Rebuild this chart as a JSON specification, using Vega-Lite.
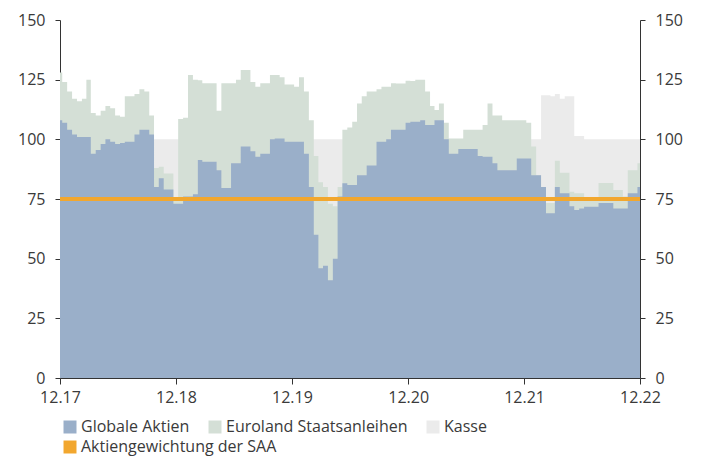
{
  "$schema": "https://vega.github.io/schema/vega-lite/v6.json",
  "width": 580,
  "height": 358,
  "autosize": "none",
  "padding": {"left": 60, "top": 20, "right": 61, "bottom": 81},
  "config": {
    "view": {"stroke": null},
    "font": "Open Sans",
    "axis": {"grid": false, "labelFont": "Open Sans", "labelFontSize": 16, "labelColor": "#3a3a3a", "domainColor": "#333333", "tickColor": "#333333", "title": null},
    "legend": {"labelFont": "Open Sans", "labelFontSize": 16, "labelColor": "#3a3a3a"}
  },
  "datasets": {
    "gewichte": [
    {"d":"2017-12-01","aktien":108,"summe":128,"kasse":100},
    {"d":"2017-12-15","aktien":107,"summe":124,"kasse":100},
    {"d":"2018-01-01","aktien":104,"summe":120,"kasse":100},
    {"d":"2018-01-15","aktien":102,"summe":117,"kasse":100},
    {"d":"2018-02-01","aktien":101,"summe":116,"kasse":100},
    {"d":"2018-02-15","aktien":101,"summe":117,"kasse":100},
    {"d":"2018-03-01","aktien":101,"summe":125,"kasse":100},
    {"d":"2018-03-15","aktien":94,"summe":111,"kasse":100},
    {"d":"2018-04-01","aktien":95.5,"summe":110,"kasse":100},
    {"d":"2018-04-15","aktien":98,"summe":112,"kasse":100},
    {"d":"2018-05-01","aktien":100,"summe":114,"kasse":100},
    {"d":"2018-05-15","aktien":99,"summe":113,"kasse":100},
    {"d":"2018-06-01","aktien":98,"summe":110,"kasse":100},
    {"d":"2018-06-15","aktien":98.5,"summe":109.5,"kasse":100},
    {"d":"2018-07-01","aktien":99,"summe":118,"kasse":100},
    {"d":"2018-07-15","aktien":99,"summe":118,"kasse":100},
    {"d":"2018-08-01","aktien":102,"summe":119,"kasse":100},
    {"d":"2018-08-15","aktien":104,"summe":121,"kasse":100},
    {"d":"2018-09-01","aktien":104,"summe":120,"kasse":100},
    {"d":"2018-09-15","aktien":102,"summe":110,"kasse":100},
    {"d":"2018-10-01","aktien":80,"summe":88,"kasse":100},
    {"d":"2018-10-15","aktien":83.7,"summe":88.5,"kasse":100},
    {"d":"2018-11-01","aktien":79,"summe":85.7,"kasse":100},
    {"d":"2018-11-15","aktien":79,"summe":85.7,"kasse":100},
    {"d":"2018-12-01","aktien":73,"summe":75,"kasse":100},
    {"d":"2018-12-15","aktien":73,"summe":108.5,"kasse":100},
    {"d":"2019-01-01","aktien":76,"summe":109,"kasse":100},
    {"d":"2019-01-15","aktien":76,"summe":127,"kasse":100},
    {"d":"2019-02-01","aktien":77,"summe":125,"kasse":100},
    {"d":"2019-02-15","aktien":91.3,"summe":124.8,"kasse":100},
    {"d":"2019-03-01","aktien":90.6,"summe":123.5,"kasse":100},
    {"d":"2019-03-15","aktien":90.6,"summe":123.5,"kasse":100},
    {"d":"2019-04-01","aktien":90.6,"summe":123.5,"kasse":100},
    {"d":"2019-04-15","aktien":87,"summe":112,"kasse":100},
    {"d":"2019-05-01","aktien":79.6,"summe":123.5,"kasse":100},
    {"d":"2019-05-15","aktien":79.6,"summe":123.5,"kasse":100},
    {"d":"2019-06-01","aktien":90,"summe":123.5,"kasse":100},
    {"d":"2019-06-15","aktien":90,"summe":125,"kasse":100},
    {"d":"2019-07-01","aktien":97,"summe":129,"kasse":100},
    {"d":"2019-07-15","aktien":97,"summe":129,"kasse":100},
    {"d":"2019-08-01","aktien":95,"summe":124,"kasse":100},
    {"d":"2019-08-15","aktien":92.7,"summe":122,"kasse":100},
    {"d":"2019-09-01","aktien":94,"summe":123.5,"kasse":100},
    {"d":"2019-09-15","aktien":94,"summe":123.5,"kasse":100},
    {"d":"2019-10-01","aktien":100,"summe":127,"kasse":100},
    {"d":"2019-10-15","aktien":100.4,"summe":127,"kasse":100},
    {"d":"2019-11-01","aktien":100.4,"summe":126,"kasse":100},
    {"d":"2019-11-15","aktien":99,"summe":123,"kasse":100},
    {"d":"2019-12-01","aktien":99,"summe":123,"kasse":100},
    {"d":"2019-12-15","aktien":99,"summe":122,"kasse":100},
    {"d":"2020-01-01","aktien":99,"summe":126,"kasse":100},
    {"d":"2020-01-15","aktien":94,"summe":120,"kasse":100},
    {"d":"2020-02-01","aktien":80,"summe":108,"kasse":100},
    {"d":"2020-02-15","aktien":60,"summe":93,"kasse":100},
    {"d":"2020-03-01","aktien":46,"summe":82,"kasse":100},
    {"d":"2020-03-15","aktien":47,"summe":80,"kasse":100},
    {"d":"2020-04-01","aktien":41,"summe":73,"kasse":100},
    {"d":"2020-04-15","aktien":50,"summe":72,"kasse":100},
    {"d":"2020-05-01","aktien":76,"summe":80,"kasse":100},
    {"d":"2020-05-15","aktien":81.6,"summe":104,"kasse":100},
    {"d":"2020-06-01","aktien":80.9,"summe":105,"kasse":100},
    {"d":"2020-06-15","aktien":80.9,"summe":107.4,"kasse":100},
    {"d":"2020-07-01","aktien":85,"summe":115,"kasse":100},
    {"d":"2020-07-15","aktien":85,"summe":118,"kasse":100},
    {"d":"2020-08-01","aktien":89,"summe":120,"kasse":100},
    {"d":"2020-08-15","aktien":89,"summe":120,"kasse":100},
    {"d":"2020-09-01","aktien":99,"summe":121,"kasse":100},
    {"d":"2020-09-15","aktien":99,"summe":122,"kasse":100},
    {"d":"2020-10-01","aktien":100,"summe":122,"kasse":100},
    {"d":"2020-10-15","aktien":104,"summe":123.5,"kasse":100},
    {"d":"2020-11-01","aktien":104,"summe":123.4,"kasse":100},
    {"d":"2020-11-15","aktien":104,"summe":123.4,"kasse":100},
    {"d":"2020-12-01","aktien":107,"summe":124.5,"kasse":100},
    {"d":"2020-12-15","aktien":107.4,"summe":124.4,"kasse":100},
    {"d":"2021-01-01","aktien":107.4,"summe":125,"kasse":100},
    {"d":"2021-01-15","aktien":108,"summe":125,"kasse":100},
    {"d":"2021-02-01","aktien":106,"summe":120,"kasse":100},
    {"d":"2021-02-15","aktien":106,"summe":114,"kasse":100},
    {"d":"2021-03-01","aktien":108,"summe":112.3,"kasse":100},
    {"d":"2021-03-15","aktien":108,"summe":115,"kasse":100},
    {"d":"2021-04-01","aktien":100,"summe":107,"kasse":100},
    {"d":"2021-04-15","aktien":94,"summe":100.4,"kasse":100},
    {"d":"2021-05-01","aktien":94,"summe":100.4,"kasse":100},
    {"d":"2021-05-15","aktien":96,"summe":100.4,"kasse":100},
    {"d":"2021-06-01","aktien":96,"summe":104,"kasse":100},
    {"d":"2021-06-15","aktien":96,"summe":104,"kasse":100},
    {"d":"2021-07-01","aktien":96,"summe":104,"kasse":100},
    {"d":"2021-07-15","aktien":93,"summe":104,"kasse":100},
    {"d":"2021-08-01","aktien":92.7,"summe":106,"kasse":100},
    {"d":"2021-08-15","aktien":92.7,"summe":115,"kasse":100},
    {"d":"2021-09-01","aktien":90,"summe":110,"kasse":100},
    {"d":"2021-09-15","aktien":87,"summe":110,"kasse":100},
    {"d":"2021-10-01","aktien":87,"summe":108,"kasse":100},
    {"d":"2021-10-15","aktien":87,"summe":108,"kasse":100},
    {"d":"2021-11-01","aktien":87,"summe":108,"kasse":100},
    {"d":"2021-11-15","aktien":92,"summe":108,"kasse":100},
    {"d":"2021-12-01","aktien":92,"summe":108,"kasse":100},
    {"d":"2021-12-15","aktien":92,"summe":107,"kasse":100},
    {"d":"2022-01-01","aktien":85,"summe":97,"kasse":100},
    {"d":"2022-01-15","aktien":85,"summe":85,"kasse":100},
    {"d":"2022-02-01","aktien":80,"summe":80,"kasse":118.5},
    {"d":"2022-02-15","aktien":69,"summe":73.3,"kasse":118.5},
    {"d":"2022-03-01","aktien":69,"summe":73.3,"kasse":118},
    {"d":"2022-03-15","aktien":80,"summe":91,"kasse":119},
    {"d":"2022-04-01","aktien":77.4,"summe":86,"kasse":117},
    {"d":"2022-04-15","aktien":77.4,"summe":86,"kasse":118},
    {"d":"2022-05-01","aktien":72,"summe":78,"kasse":118},
    {"d":"2022-05-15","aktien":70.4,"summe":77.4,"kasse":101.4},
    {"d":"2022-06-01","aktien":71,"summe":77.4,"kasse":101.4},
    {"d":"2022-06-15","aktien":71.8,"summe":74.6,"kasse":100},
    {"d":"2022-07-01","aktien":71.8,"summe":74.6,"kasse":100},
    {"d":"2022-07-15","aktien":71.8,"summe":74.6,"kasse":100},
    {"d":"2022-08-01","aktien":73.3,"summe":81.7,"kasse":100},
    {"d":"2022-08-15","aktien":73.3,"summe":81.7,"kasse":100},
    {"d":"2022-09-01","aktien":73.3,"summe":81.7,"kasse":100},
    {"d":"2022-09-15","aktien":71,"summe":78.8,"kasse":100},
    {"d":"2022-10-01","aktien":71,"summe":78.8,"kasse":100},
    {"d":"2022-10-15","aktien":71,"summe":76,"kasse":100},
    {"d":"2022-11-01","aktien":77.4,"summe":87,"kasse":100},
    {"d":"2022-11-15","aktien":77.4,"summe":87,"kasse":100},
    {"d":"2022-12-01","aktien":80,"summe":90,"kasse":100}
    ],
    "saa": [{"name": "Aktiengewichtung der SAA", "gewicht": 75}]
  },
  "layer": [
    {
      "data": {"name": "gewichte"},
      "mark": {"type": "area", "interpolate": "step", "opacity": 1},
      "encoding": {
        "x": {
          "field": "d", "type": "temporal",
          "scale": {"type": "utc", "domain": [{"year": 2017, "month": 12, "date": 1, "utc": true}, {"year": 2022, "month": 12, "date": 1, "utc": true}], "nice": false},
          "axis": {
            "values": [
              {"year": 2017, "month": 12, "date": 1, "utc": true},
              {"year": 2018, "month": 12, "date": 1, "utc": true},
              {"year": 2019, "month": 12, "date": 1, "utc": true},
              {"year": 2020, "month": 12, "date": 1, "utc": true},
              {"year": 2021, "month": 12, "date": 1, "utc": true},
              {"year": 2022, "month": 12, "date": 1, "utc": true}
            ],
            "labelExpr": "utcFormat(datum.value, '%m.%y')", "tickSize": 6, "labelPadding": 5, "labelOverlap": false, "labelFlush": false
          }
        },
        "y": {"field": "kasse", "type": "quantitative", "scale": {"domain": [0, 150], "nice": false}, "axis": {"orient": "left", "values": [0, 25, 50, 75, 100, 125, 150], "tickSize": 5, "labelPadding": 10}},
        "color": {"datum": "Kasse", "type": "nominal",
          "scale": {"domain": ["Globale Aktien", "Euroland Staatsanleihen", "Kasse"], "range": ["#9AAFC9", "#D4DFD6", "#EBEBEB"]},
          "legend": {"title": null, "orient": "none", "legendX": 2, "legendY": 399, "direction": "horizontal", "columnPadding": 17, "symbolType": "square", "symbolSize": 169, "symbolStrokeWidth": 0, "labelOffset": 3, "padding": 0, "labelLimit": 400, "symbolOpacity": 1}
        }
      }
    },
    {
      "data": {"name": "gewichte"},
      "mark": {"type": "area", "interpolate": "step", "opacity": 1},
      "encoding": {
        "x": {"field": "d", "type": "temporal"},
        "y": {"field": "summe", "type": "quantitative", "axis": null},
        "color": {"datum": "Euroland Staatsanleihen", "type": "nominal"}
      }
    },
    {
      "data": {"name": "gewichte"},
      "mark": {"type": "area", "interpolate": "step", "opacity": 1},
      "encoding": {
        "x": {"field": "d", "type": "temporal"},
        "y": {"field": "aktien", "type": "quantitative", "axis": null},
        "color": {"datum": "Globale Aktien", "type": "nominal"}
      }
    },
    {
      "data": {"name": "saa"},
      "mark": {"type": "rule", "strokeWidth": 4},
      "encoding": {
        "y": {"field": "gewicht", "type": "quantitative", "axis": {"orient": "right", "values": [0, 25, 50, 75, 100, 125, 150], "tickSize": 5, "labelPadding": 10}},
        "stroke": {"field": "name", "type": "nominal",
          "scale": {"range": ["#F2A72E"]},
          "legend": {"title": null, "orient": "none", "legendX": 2, "legendY": 419, "symbolType": "square", "symbolSize": 42, "symbolStrokeWidth": 6.5, "labelOffset": 3, "padding": 0, "labelLimit": 400, "symbolOpacity": 1}
        }
      }
    }
  ],
  "resolve": {"axis": {"y": "independent"}}
}
